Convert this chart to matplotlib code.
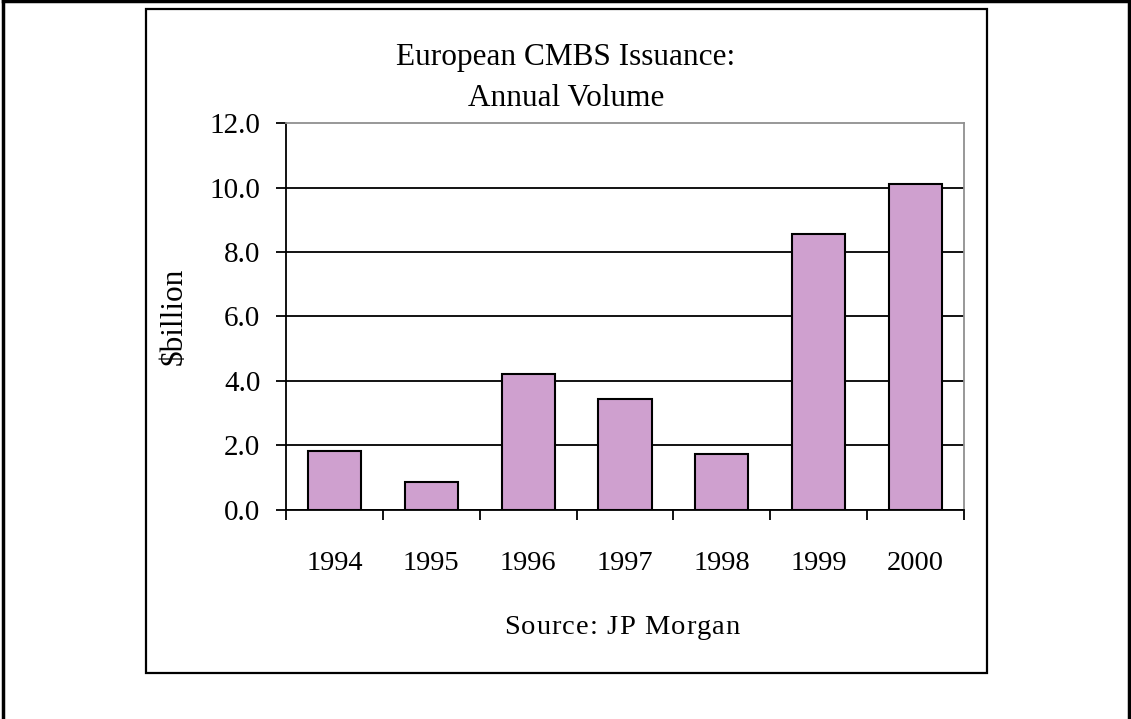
import matplotlib
matplotlib.use("Agg")
import matplotlib.pyplot as plt
from matplotlib.lines import Line2D
from matplotlib.patches import Rectangle

# datos
years = ["1994", "1995", "1996", "1997", "1998", "1999", "2000"]
volume = [1.82, 0.87, 4.2, 3.44, 1.74, 8.56, 10.12]
y_ticks = [0, 2, 4, 6, 8, 10, 12]

plt.rcParams['font.family'] = ['Liberation Serif', 'DejaVu Serif']

W, H = 1131, 719
fig = plt.figure(figsize=(W / 100, H / 100), dpi=100)

def fx(px):
    return px / W

def fy(py):
    return 1 - py / H

ax = fig.add_axes([fx(286), fy(509.5), fx(964 - 286), (509.5 - 123.3) / H])

x = range(len(years))
ax.bar(x, volume, width=0.55, color='#CFA0CF', edgecolor='black', linewidth=1.5, zorder=3)

ax.set_xlim(-0.5, len(years) - 0.5)
ax.set_ylim(0, 12)

# etiquetas en el centro, marcas entre categorias
ax.set_xticks(list(x))
ax.set_xticklabels(years, fontsize=20.5)
ax.tick_params(axis='x', which='major', length=0, pad=30)
ax.set_xticks([i - 0.5 for i in range(len(years) + 1)], minor=True)
ax.tick_params(axis='x', which='minor', length=7.5, width=1.3, direction='out', color='black')

ax.set_yticks(y_ticks)
ax.set_yticklabels([f"{v:.1f}" for v in y_ticks], fontsize=21)
ax.tick_params(axis='y', length=7.5, width=1.3, direction='out', pad=11)

ax.set_axisbelow(True)
ax.yaxis.grid(True, color='black', linewidth=1.3)
ax.get_ygridlines()[-1].set_visible(False)

ax.spines['left'].set_linewidth(1.3)
ax.spines['bottom'].set_linewidth(1.3)
ax.spines['top'].set_color('#909090')
ax.spines['right'].set_color('#909090')
ax.spines['top'].set_linewidth(1.3)
ax.spines['right'].set_linewidth(1.3)

ax.set_ylabel("$billion", fontsize=22.5, labelpad=15)

fig.text(fx(566), fy(57), "European CMBS Issuance:", fontsize=22.5, ha='center', va='center')
fig.text(fx(566), fy(99), "Annual Volume", fontsize=22.5, ha='center', va='center')

# texto de la fuente con espaciado entre letras
source = "Source: JP Morgan"
spacing = 1.1
renderer = fig.canvas.get_renderer()
widths = []
for ch in source:
    t = fig.text(0, 0, ch if ch != " " else "a", fontsize=20.5)
    w = t.get_window_extent(renderer).width
    if ch == " ":
        w = w * 0.55
    widths.append(w)
    t.remove()
total = sum(widths) + spacing * (len(source) - 1)
cur = 622 - total / 2
for ch, w in zip(source, widths):
    if ch != " ":
        fig.text(fx(cur), fy(628), ch, fontsize=20.5, ha='left', va='center')
    cur += w + spacing

# marco del grafico
fig.patches.append(Rectangle((fx(146), fy(673)), fx(987 - 146), (673 - 9) / H,
                             transform=fig.transFigure, fill=False,
                             edgecolor='black', linewidth=1.6))
# marco exterior (sin borde inferior)
fig.lines.append(Line2D([fx(3), fx(3)], [0, fy(1)], transform=fig.transFigure, color='black', linewidth=2.5))
fig.lines.append(Line2D([fx(1129), fx(1129)], [0, fy(1)], transform=fig.transFigure, color='black', linewidth=2.5))
fig.lines.append(Line2D([fx(3), fx(1129)], [fy(1), fy(1)], transform=fig.transFigure, color='black', linewidth=2.5))

fig.savefig("out.png", dpi=100)
